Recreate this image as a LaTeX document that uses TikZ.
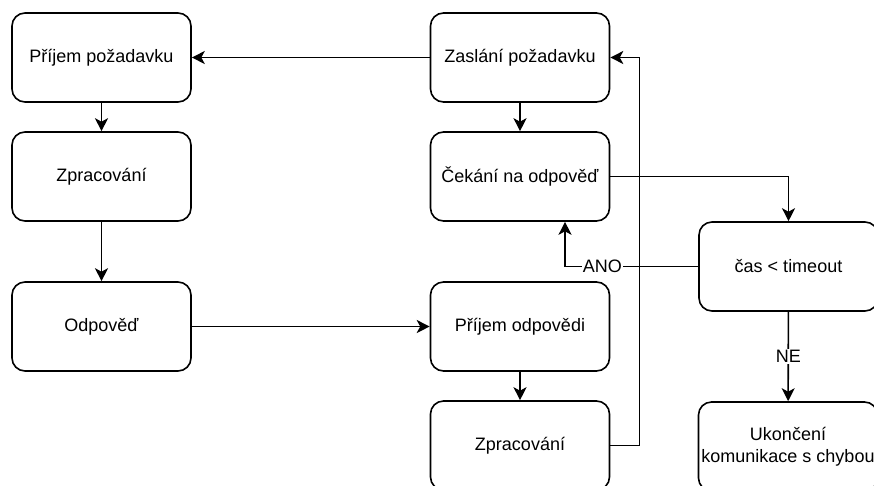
\documentclass[tikz,border=0pt]{standalone}
\usepackage{fontspec}
\setmainfont{Liberation Sans}
\usetikzlibrary{arrows.meta,calc}
\begin{document}
\begin{tikzpicture}[x=1pt,y=1pt,
  box/.style={draw, line width=1.6pt, rounded corners=13pt, minimum width=179pt, minimum height=89pt, align=center, inner sep=2pt, font=\fontsize{18}{21.5}\selectfont},
  arr/.style={draw, line width=1.6pt, -{Stealth[length=13pt,width=13pt,inset=3.5pt]}},
  lbl/.style={fill=white, inner sep=1pt, font=\fontsize{18}{21.5}\selectfont}]
\useasboundingbox (0,0) rectangle (874,-485);
\clip (0,0) rectangle (874,-485);
\node[box] (p1) at (101.5,-57.5) {Příjem požadavku};
\node[box] (z1) at (101.5,-176.5) {Zpracování};
\node[box] (o1) at (101.5,-326.5) {Odpověď};
\node[box] (zas) at (520,-57.5) {Zaslání požadavku};
\node[box] (cek) at (520,-176.5) {Čekání na odpověď};
\node[box] (cas) at (788.5,-266.5) {čas < timeout};
\node[box] (po) at (520,-326.5) {Příjem odpovědi};
\node[box] (z2) at (520,-445.5) {Zpracování};
\node[box] (uk) at (788,-446.5) {Ukončení\\komunikace s chybou};
\coordinate (anotop) at ([xshift=45pt]cek.south);
\draw[arr] (zas.west) -- (p1.east);
\draw[arr] (p1) -- (z1);
\draw[arr] (z1) -- (o1);
\draw[arr] (zas) -- (cek);
\draw[arr] (cek.east) -| (cas.north);
\draw[arr] (cas.west) -| node[lbl, pos=0.36] {ANO} (anotop);
\draw[arr] (z2.east) -- ++(29,0) |- (zas.east);
\draw[arr] (o1.east) -- (po.west);
\draw[arr] (po) -- (z2);
\draw[arr] (cas) -- node[lbl] {NE} (uk);
\end{tikzpicture}
\end{document}
